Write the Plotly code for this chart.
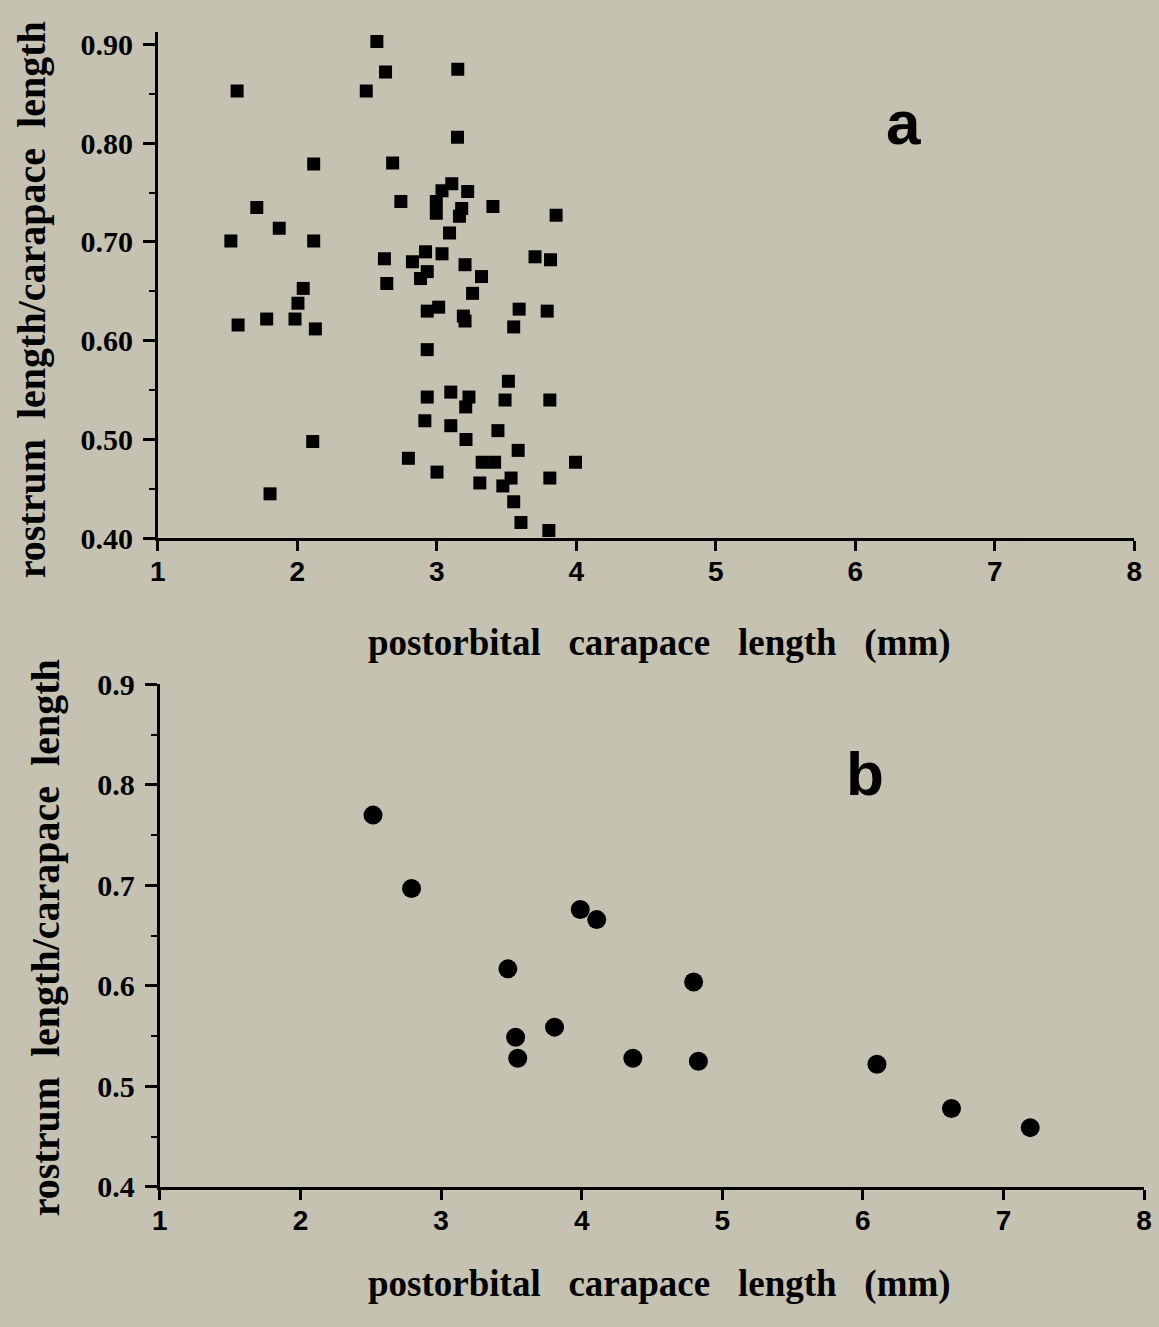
import plotly.graph_objects as go

# Panel a: postorbital carapace length (mm) vs rostrum/carapace ratio
a_x = [2.570, 1.568, 2.632, 2.494, 2.117, 2.683, 1.709, 1.870, 1.523, 2.117,
       2.624, 2.641, 2.042, 2.004, 2.742, 3.150, 3.148, 3.107, 3.037, 2.996,
       2.996, 3.221, 3.178, 3.162, 3.091, 3.402, 3.855, 2.919, 3.037, 2.825,
       2.931, 2.883, 3.202, 3.320, 3.256, 3.704, 3.815, 2.931, 3.013, 3.190,
       3.202, 3.590, 3.791, 3.551, 2.129, 1.575, 1.780, 1.983, 2.931, 3.513,
       2.931, 3.100, 3.230, 3.207, 3.489, 3.810, 2.914, 3.100, 3.209, 3.438,
       3.583, 2.110, 2.796, 3.001, 3.325, 3.414, 3.994, 3.308, 3.532, 3.473,
       3.810, 3.551, 3.603, 3.803, 1.804]
a_y = [0.903, 0.853, 0.872, 0.853, 0.779, 0.780, 0.735, 0.714, 0.701, 0.701,
       0.683, 0.658, 0.653, 0.638, 0.741, 0.875, 0.806, 0.759, 0.752, 0.741,
       0.729, 0.751, 0.734, 0.726, 0.709, 0.736, 0.727, 0.690, 0.688, 0.680,
       0.670, 0.663, 0.677, 0.665, 0.648, 0.685, 0.682, 0.630, 0.634, 0.625,
       0.620, 0.632, 0.630, 0.614, 0.612, 0.616, 0.622, 0.622, 0.591, 0.559,
       0.543, 0.548, 0.543, 0.533, 0.540, 0.540, 0.519, 0.514, 0.500, 0.509,
       0.489, 0.498, 0.481, 0.467, 0.477, 0.477, 0.477, 0.456, 0.461, 0.453,
       0.461, 0.437, 0.416, 0.408, 0.445]

# Panel b
b_x = [2.516, 2.790, 3.990, 4.107, 3.475, 4.796, 3.807, 3.530, 3.545, 4.364,
       4.830, 6.100, 6.630, 7.190]
b_y = [0.770, 0.697, 0.676, 0.666, 0.617, 0.604, 0.559, 0.549, 0.528, 0.528,
       0.525, 0.522, 0.478, 0.459]

x_ticks = [1, 2, 3, 4, 5, 6, 7, 8]
a_yticks = [0.40, 0.50, 0.60, 0.70, 0.80, 0.90]
a_ytick_text = ["0.40", "0.50", "0.60", "0.70", "0.80", "0.90"]
b_yticks = [0.4, 0.5, 0.6, 0.7, 0.8, 0.9]
b_ytick_text = ["0.4", "0.5", "0.6", "0.7", "0.8", "0.9"]

GX = "\u00a0" * 3
GY = "\u00a0" * 2
x_title = "postorbital" + GX + "carapace" + GX + "length" + GX + "(mm)"
y_title = "rostrum" + GY + "length/carapace" + GY + "length"

W, H = 1159, 1327
bg = "#c5c2b1"

fig = go.Figure()
fig.add_trace(go.Scatter(x=a_x, y=a_y, mode="markers", xaxis="x", yaxis="y",
                         marker=dict(symbol="square", size=13, color="black"),
                         showlegend=False))
fig.add_trace(go.Scatter(x=b_x, y=b_y, mode="markers", xaxis="x2", yaxis="y2",
                         marker=dict(symbol="circle", size=19, color="black"),
                         showlegend=False))

xfont = dict(family="Liberation Sans", size=28, color="black", weight="bold")
yfont = dict(family="Liberation Serif", size=30, color="black", weight="bold")

common_x = dict(range=[1, 8], tickvals=x_ticks, ticktext=[str(t) for t in x_ticks],
                showline=True, linecolor="black", linewidth=3, ticks="outside",
                ticklen=10, tickwidth=2.5, tickcolor="black", showgrid=False,
                zeroline=False, tickfont=xfont, ticklabelstandoff=-4)
common_y = dict(showline=True, linecolor="black", linewidth=3, ticks="outside",
                ticklen=12, tickwidth=2.5, tickcolor="black", showgrid=False,
                zeroline=False, tickfont=yfont, ticklabelstandoff=4,
                minor=dict(ticks="outside", ticklen=6, tickwidth=2, tickcolor="black",
                           dtick=0.05, showgrid=False))

fig.update_layout(
    width=W, height=H, paper_bgcolor=bg, plot_bgcolor=bg,
    margin=dict(l=0, r=0, t=0, b=0),
    xaxis=dict(domain=[152 / W, 1142 / W], anchor="y", **common_x),
    yaxis=dict(domain=[1 - 535 / H, 1 - 15 / H], anchor="x", range=[0.40, 0.913],
               tickvals=a_yticks, ticktext=a_ytick_text, **common_y),
    xaxis2=dict(domain=[154 / W, 1152 / W], anchor="y2", **common_x),
    yaxis2=dict(domain=[1 - 1200.7 / H, 1 - 685 / H], anchor="x2", range=[0.4, 0.9],
                tickvals=b_yticks, ticktext=b_ytick_text, **common_y),
)

xtfont = dict(family="Liberation Serif", size=37, color="black", weight="bold")
ytfont = dict(family="Liberation Serif", size=40, color="black", weight="bold")
ann = [
    dict(text=x_title, x=661 / W, y=1 - 642 / H, font=xtfont),
    dict(text=x_title, x=661 / W, y=1 - 1300 / H, font=xtfont),
    dict(text=y_title, x=24 / W, y=1 - 290 / H, textangle=-90, font=ytfont),
    dict(text=y_title, x=38 / W, y=1 - 945 / H, textangle=-90, font=ytfont),
]
for a in ann:
    fig.add_annotation(xref="paper", yref="paper", showarrow=False,
                       xanchor="center", yanchor="middle", **a)

lfont = dict(family="Liberation Sans", size=62, color="black", weight="bold")
fig.add_annotation(xref="paper", yref="paper", x=908 / W, y=1 - 108 / H, text="a",
                   showarrow=False, xanchor="center", yanchor="middle", font=lfont)
fig.add_annotation(xref="paper", yref="paper", x=869 / W, y=1 - 776 / H, text="b",
                   showarrow=False, xanchor="center", yanchor="middle", font=lfont)

fig.write_html("out.html", config={"displayModeBar": False},
               post_script="document.body.style.margin='0';"
                           "document.body.style.overflow='hidden';"
                           "document.body.style.background='" + bg + "';")
